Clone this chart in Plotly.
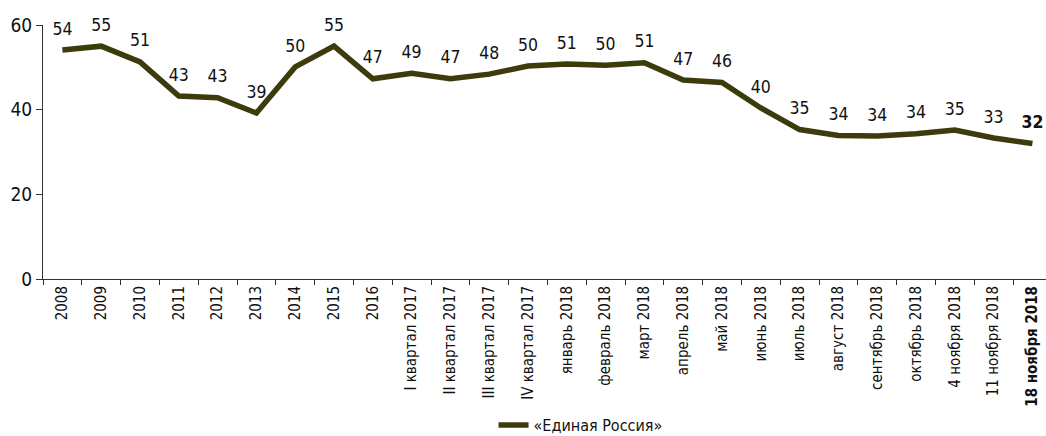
import plotly.graph_objects as go

categories = ["2008", "2009", "2010", "2011", "2012", "2013", "2014", "2015", "2016",
              "I квартал 2017", "II квартал 2017", "III квартал 2017", "IV квартал 2017",
              "январь 2018", "февраль 2018", "март 2018", "апрель 2018", "май 2018",
              "июнь 2018", "июль 2018", "август 2018", "сентябрь 2018", "октябрь 2018",
              "4 ноября 2018", "11 ноября 2018", "18 ноября 2018"]
values = [54.1, 55.0, 51.3, 43.2, 42.8, 39.2, 50.1, 55.0, 47.3,
          48.6, 47.3, 48.4, 50.3, 50.8, 50.5, 51.1, 47.0, 46.4,
          40.4, 35.3, 33.9, 33.8, 34.3, 35.2, 33.3, 32.0]
labels = ["54", "55", "51", "43", "43", "39", "50", "55", "47",
          "49", "47", "48", "50", "51", "50", "51", "47", "46",
          "40", "35", "34", "34", "34", "35", "33", "<b>32</b>"]
tick_text = categories[:-1] + ["<b>" + categories[-1] + "</b>"]
series_name = "«Единая Россия»"

FONT = "DejaVu Sans Condensed, Liberation Sans Narrow, Roboto, sans-serif"
COLOR = "#3b3b0b"

fig = go.Figure()
fig.add_trace(go.Scatter(
    x=categories, y=values, mode="lines+markers+text", name=series_name,
    line=dict(color=COLOR, width=5.5),
    marker=dict(size=16, color="rgba(0,0,0,0)"),
    text=labels, textposition="top center",
    textfont=dict(family=FONT, size=17.5, color="#111111"),
    cliponaxis=False,
))

fig.update_layout(
    width=1046, height=436,
    margin=dict(l=43, r=0, t=25, b=157),
    paper_bgcolor="white", plot_bgcolor="white",
    font=dict(family=FONT, color="#111111"),
    showlegend=True,
    legend=dict(orientation="h", xref="container", yref="container",
                x=0.555, y=0.025, xanchor="center", yanchor="middle",
                font=dict(family=FONT, size=16, color="#111111")),
    xaxis=dict(type="category", range=[-0.5, 25.35], tickson="boundaries",
               tickmode="array", tickvals=categories, ticktext=tick_text,
               ticks="outside", ticklen=5, tickcolor="#333333",
               showline=True, linecolor="#333333", linewidth=1,
               showgrid=False, tickangle=-90, automargin=False,
               tickfont=dict(family=FONT, size=15, color="#111111")),
    yaxis=dict(range=[0, 60], tickvals=[0, 20, 40, 60],
               ticks="outside", ticklen=6, tickcolor="#333333",
               showline=True, linecolor="#333333", linewidth=1,
               showgrid=False, zeroline=False, automargin=False,
               tickfont=dict(family=FONT, size=19, color="#111111")),
)

fig.write_html("out.html", post_script="document.body.style.margin='0';",
               config={"displayModeBar": False})
